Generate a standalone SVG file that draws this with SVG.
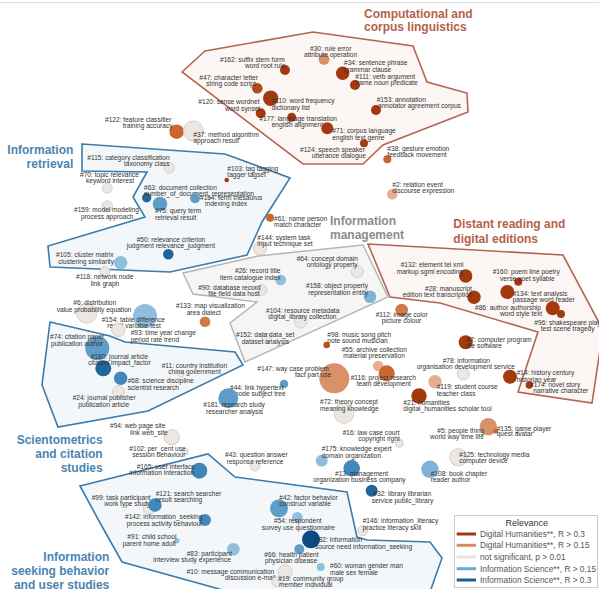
<svg xmlns="http://www.w3.org/2000/svg" width="599" height="589" viewBox="0 0 599 589">
<style>
.l{font-family:"Liberation Sans",Arial,sans-serif;font-size:6.6px;fill:#333}
.t{font-family:"Liberation Sans",Arial,sans-serif;font-size:12px;font-weight:bold}
.tr{fill:#b5614b}.tb{fill:#4a85b3}.tg{fill:#8c8c8c}
.pr{fill:#fcf6f4;stroke:#b5654f;stroke-width:1.6;stroke-linejoin:miter}
.pb{fill:#f3f7fa;stroke:#3d7bab;stroke-width:1.6}
.pg{fill:#f5f5f5;stroke:#b3b3b3;stroke-width:1.4}
.dr{fill:#a3390d}.mo{fill:#c9672f}.lo{fill:#d9916a}.llo{fill:#e4ae8f}
.ns{fill:#ece7e3;stroke:#cdc7c3;stroke-width:0.8}
.lb{fill:#8fbfdc}.mb{fill:#5d9dc7}.mb2{fill:#4189bd}.db{fill:#1f669b}.xb{fill:#0d4a85}
.lg{font-family:"Liberation Sans",Arial,sans-serif;font-size:8.3px;fill:#555}
</style>
<line x1="0" y1="2.5" x2="599" y2="2.5" stroke="#dddddd" stroke-width="1"/>
<g id="clusters">
<polygon class="pr" points="182,72 205,51 313,32 413,46 427,82 467,93 468,112 383,145 363,164 303,164"/>
<polygon class="pb" points="82,144 225,154 290,178 262,222 247,255 170,272 50,267 48,246 145,217 133,197 147,172 82,171"/>
<polygon class="pg" points="183,273 258,256 363,245 388,297 245,362 230,323 257,302 193,294"/>
<polygon class="pr" points="368,244 563,255 603,330 592,403 518,392 538,332 440,303 390,297"/>
<polygon class="pb" points="50,322 110,336 125,342 235,352 243,365 148,411 58,427 42,385"/>
<polygon class="pb" points="80,486 208,454 235,477 347,492 357,537 367,540 430,542 442,558 430,592 230,592 122,562 99,521"/>
</g>
<g id="nodes">
<g id="n30"><circle class="lo" cx="324" cy="59.3" r="5.5"/><text class="l"><tspan x="310" y="50.6">#30: rule error</tspan><tspan x="304" y="56.6">attribute operation</tspan></text></g>
<g id="n162"><circle class="dr" cx="285" cy="70" r="5"/><text class="l"><tspan x="220" y="61.6">#162: suffix stem form</tspan><tspan x="245" y="68">word root rule</tspan></text></g>
<g id="n47"><circle fill="#b34a1c" cx="257.3" cy="88.3" r="5.3"/><text class="l"><tspan x="199.3" y="80">#47: character letter</tspan><tspan x="206" y="86.3">string code script</tspan></text></g>
<g id="n120"><circle class="dr" cx="260.7" cy="113.3" r="5"/><text class="l"><tspan x="198.3" y="104">#120: sense wordnet</tspan><tspan x="225" y="111">word synset</tspan></text></g>
<g id="n110"><circle class="dr" cx="270.7" cy="98.3" r="7.7"/><text class="l"><tspan x="271.7" y="103.3">#110: word frequency</tspan><tspan x="271.7" y="110">dictionary list</tspan></text></g>
<g id="n177"><circle class="dr" cx="291.7" cy="117.3" r="4.5"/><text class="l"><tspan x="259.3" y="120.6">#177: language translation</tspan><tspan x="271.7" y="127.3">english alignment</tspan></text></g>
<g id="n71"><circle class="dr" cx="327.3" cy="128.3" r="6"/><text class="l"><tspan x="332.3" y="133.3">#71: corpus language</tspan><tspan x="332.3" y="140">english text genre</tspan></text></g>
<g id="n124"><circle class="dr" cx="364" cy="143.3" r="4"/><text class="l"><tspan x="300" y="152.3">#124: speech speaker</tspan><tspan x="311.7" y="158.3">utterance dialogue</tspan></text></g>
<g id="n34"><circle class="dr" cx="342.7" cy="73.3" r="6.7"/><text class="l"><tspan x="344" y="64.6">#34: sentence phrase</tspan><tspan x="344" y="71.6">grammar clause</tspan></text></g>
<g id="n111"><circle class="dr" cx="355" cy="85" r="5"/><text class="l"><tspan x="355.3" y="79">#111: verb argument</tspan><tspan x="355.3" y="85.3">frame noun predicate</tspan></text></g>
<g id="n153"><circle class="dr" cx="376" cy="110" r="5"/><text class="l"><tspan x="376.7" y="101.6">#153: annotation</tspan><tspan x="378" y="108.3">annotator agreement corpus</tspan></text></g>
<g id="n38"><circle class="mo" cx="387.3" cy="159.3" r="4"/><text class="l"><tspan x="387.3" y="150.6">#38: gesture emotion</tspan><tspan x="387.3" y="156.6">feedback movement</tspan></text></g>
<g id="n2"><circle class="llo" cx="392.3" cy="194.3" r="5.3"/><text class="l"><tspan x="392.3" y="186.6">#2: relation event</tspan><tspan x="392.3" y="193.3">discourse expression</tspan></text></g>
<g id="n122"><circle class="mo" cx="176.7" cy="131.7" r="7.3"/><text class="l"><tspan x="105" y="121.6">#122: feature classifier</tspan><tspan x="122.7" y="128.3">training accuracy</tspan></text></g>
<g id="n37"><circle class="ns" cx="193.3" cy="131" r="10"/><text class="l"><tspan x="193.3" y="136.6">#37: method algorithm</tspan><tspan x="193.3" y="143">approach result</tspan></text></g>
<g id="n115"><circle class="ns" cx="169.3" cy="167.7" r="5.3"/><text class="l"><tspan x="87.3" y="159.6">#115: category classification</tspan><tspan x="124" y="165.6">taxonomy class</tspan></text></g>
<g id="n70"><circle class="ns" cx="107.3" cy="188.3" r="5"/><text class="l"><tspan x="80" y="177.3">#70: topic relevance</tspan><tspan x="86" y="183.3">keyword interest</tspan></text></g>
<g id="n63"><circle class="db" cx="146.7" cy="197.7" r="4.7"/><text class="l"><tspan x="144" y="189.6">#63: document collection</tspan><tspan x="144" y="195.6">number_of_document_representation</tspan></text></g>
<g id="n75"><circle class="mb" cx="160" cy="204" r="7.3"/><text class="l"><tspan x="155" y="213.3">#75: query term</tspan><tspan x="155" y="220">retrieval result</tspan></text></g>
<g id="n164"><circle class="mb" cx="195" cy="198.3" r="5"/><text class="l"><tspan x="200" y="200">#164: term thesaurus</tspan><tspan x="205" y="205.6">indexing index</tspan></text></g>
<g id="n159"><circle class="ns" cx="107.3" cy="206" r="5.3"/><text class="l"><tspan x="74" y="212.3">#159: model modeling</tspan><tspan x="81" y="219">process approach</tspan></text></g>
<g id="n50"><circle class="db" cx="168.3" cy="254.3" r="5.3"/><text class="l"><tspan x="136.7" y="241.6">#50: relevance criterion</tspan><tspan x="126.7" y="248.3">judgment relevance_judgment</tspan></text></g>
<g id="n105"><circle class="lb" cx="120.7" cy="262.7" r="6.7"/><text class="l"><tspan x="56" y="256.6">#105: cluster matrix</tspan><tspan x="58.3" y="264">clustering similarity</tspan></text></g>
<g id="n103"><circle class="dr" cx="226.7" cy="180" r="2.3"/><text class="l"><tspan x="227.3" y="171.3">#103: tag tagging</tspan><tspan x="227.3" y="177.3">tagger tagset</tspan></text></g>
<g id="n61"><circle class="mo" cx="270" cy="217.7" r="4"/><text class="l"><tspan x="274" y="221.3">#61: name person</tspan><tspan x="274" y="227.3">match character</tspan></text></g>
<g id="n144"><circle class="ns" cx="260" cy="248.3" r="6.7"/><text class="l"><tspan x="257.3" y="239.6">#144: system task</tspan><tspan x="257.3" y="245.6">input technique set</tspan></text></g>
<g id="n64"><circle class="ns" cx="357.3" cy="271.7" r="6"/><text class="l"><tspan x="296.7" y="260.6">#64: concept domain</tspan><tspan x="306.7" y="267.3">ontology property</tspan></text></g>
<g id="n26"><circle class="lb" cx="280.7" cy="280" r="5.3"/><text class="l"><tspan x="235" y="273">#26: record title</tspan><tspan x="220" y="279.6">item catalogue index</tspan></text></g>
<g id="n90"><circle class="ns" cx="261.7" cy="290" r="5.3"/><text class="l"><tspan x="198.3" y="289.6">#90: database record</tspan><tspan x="208.3" y="295.6">file field data host</tspan></text></g>
<g id="n158"><circle fill="#7db3d6" cx="370" cy="296.7" r="6.3"/><text class="l"><tspan x="306" y="288.3">#158: object property</tspan><tspan x="308.3" y="295">representation entity</tspan></text></g>
<g id="n133"><circle fill="#d07a48" cx="205" cy="321.7" r="5.3"/><text class="l"><tspan x="176" y="308.3">#133: map visualization</tspan><tspan x="186.7" y="315">area dialect</tspan></text></g>
<g id="n104"><circle class="ns" cx="300.7" cy="321.7" r="6.3"/><text class="l"><tspan x="266" y="313">#104: resource metadata</tspan><tspan x="268.3" y="319">digital_library collection</tspan></text></g>
<g id="n152"><circle class="ns" cx="266.7" cy="338.3" r="5"/><text class="l"><tspan x="236" y="337.3">#152: data data_set</tspan><tspan x="241.7" y="344">dataset analysis</tspan></text></g>
<g id="n98"><circle fill="#b9501e" cx="326.7" cy="345" r="3.3"/><text class="l"><tspan x="327.3" y="336.6">#98: music song pitch</tspan><tspan x="327.3" y="343.3">note sound musician</tspan></text></g>
<g id="n55"><circle class="llo" cx="378.3" cy="366" r="5.3"/><text class="l"><tspan x="341.7" y="352.3">#55: archive collection</tspan><tspan x="343.3" y="358.3">material preservation</tspan></text></g>
<g id="n147"><circle class="lo" cx="334.3" cy="378.3" r="15"/><text class="l"><tspan x="257.3" y="370.6">#147: way case problem</tspan><tspan x="295" y="377.3">fact part use</tspan></text></g>
<g id="n116"><circle class="mo" cx="386.7" cy="373.3" r="8"/><text class="l"><tspan x="350.7" y="380">#116: project research</tspan><tspan x="356.7" y="386.3">team development</tspan></text></g>
<g id="n44"><circle class="mb" cx="284" cy="384" r="4.3"/><text class="l"><tspan x="230" y="390">#44: link hypertext</tspan><tspan x="235" y="396.3">node subject tree</tspan></text></g>
<g id="n181"><circle class="mb" cx="228.3" cy="398.3" r="10"/><text class="l"><tspan x="203.3" y="407.3">#181: research study</tspan><tspan x="206" y="414">researcher analysis</tspan></text></g>
<g id="n72"><circle class="ns" cx="344" cy="413.3" r="10"/><text class="l"><tspan x="320" y="404">#72: theory concept</tspan><tspan x="320" y="411.3">meaning knowledge</tspan></text></g>
<g id="n21"><circle class="dr" cx="419" cy="396" r="7.7"/><text class="l"><tspan x="403.3" y="404.6">#21: humanities</tspan><tspan x="403.3" y="411.3">digital_humanities scholar tool</tspan></text></g>
<g id="n16"><circle class="ns" cx="399.3" cy="443.3" r="4"/><text class="l"><tspan x="342.7" y="434.6">#16: law case court</tspan><tspan x="358.3" y="441.3">copyright right</tspan></text></g>
<g id="n175"><circle class="lb" cx="321.7" cy="460.7" r="6"/><text class="l"><tspan x="321.7" y="451.3">#175: knowledge expert</tspan><tspan x="321.7" y="458">domain organization</tspan></text></g>
<g id="n13"><circle class="mb2" cx="351.7" cy="468.3" r="8.3"/><text class="l"><tspan x="335" y="475.6">#13: management</tspan><tspan x="313.3" y="482.3">organization business company</tspan></text></g>
<g id="n32"><circle class="db" cx="371.7" cy="490.7" r="6"/><text class="l"><tspan x="373.3" y="496.3">#32: library librarian</tspan><tspan x="371.7" y="503">service public_library</tspan></text></g>
<g id="n146"><circle class="ns" cx="362.7" cy="530.7" r="5"/><text class="l"><tspan x="362.7" y="523">#146: information_literacy</tspan><tspan x="362.7" y="529.6">practice literacy skill</tspan></text></g>
<g id="n43"><circle class="ns" cx="255" cy="466" r="5"/><text class="l"><tspan x="225" y="457.3">#43: question answer</tspan><tspan x="226.7" y="464">response reference</tspan></text></g>
<g id="n42"><circle class="mb" cx="279" cy="508.3" r="9"/><text class="l"><tspan x="279.3" y="499.6">#42: factor behavior</tspan><tspan x="279.3" y="505.6">construct variable</tspan></text></g>
<g id="n54"><circle class="lb" cx="297.3" cy="517.3" r="5.3"/><text class="l"><tspan x="274" y="523.3">#54: respondent</tspan><tspan x="261.7" y="530">survey use questionnaire</tspan></text></g>
<g id="n82"><circle class="xb" cx="311" cy="539.3" r="9"/><text class="l"><tspan x="315" y="542.3">#82: information</tspan><tspan x="315" y="549">source need information_seeking</tspan></text></g>
<g id="n66"><circle class="mb" cx="299.3" cy="549.3" r="5"/><text class="l"><tspan x="264.3" y="557.3">#66: health patient</tspan><tspan x="265" y="563.3">physician disease</tspan></text></g>
<g id="n60"><circle class="lb" cx="320.7" cy="567" r="4"/><text class="l"><tspan x="330" y="568.3">#60: woman gender man</tspan><tspan x="330" y="574.6">male sex female</tspan></text></g>
<g id="n10"><circle class="ns" cx="285" cy="571.7" r="7"/><text class="l"><tspan x="186.7" y="574">#10: message communication</tspan><tspan x="225" y="580">discussion e-mail</tspan></text></g>
<g id="n19"><circle class="ns" cx="276.7" cy="581.7" r="5"/><text class="l"><tspan x="278.3" y="580.6">#19: community group</tspan><tspan x="279" y="587.3">member individual</tspan></text></g>
<g id="n83"><circle class="lb" cx="233.3" cy="549.3" r="6.3"/><text class="l"><tspan x="186.7" y="555.6">#83: participant</tspan><tspan x="153.3" y="562.3">interview study experience</tspan></text></g>
<g id="n165"><circle fill="#3f85b8" cx="199.3" cy="470.7" r="8"/><text class="l"><tspan x="136.7" y="469">#165: user interface</tspan><tspan x="129.3" y="475">information interaction</tspan></text></g>
<g id="n99"><circle class="ns" cx="149.3" cy="508.3" r="6"/><text class="l"><tspan x="91.7" y="499.6">#99: task participant</tspan><tspan x="104.3" y="505.6">work type study</tspan></text></g>
<g id="n121"><circle class="mb2" cx="155" cy="505" r="6.7"/><text class="l"><tspan x="155.7" y="495.6">#121: search searcher</tspan><tspan x="155.7" y="502.3">result searching</tspan></text></g>
<g id="n142"><circle class="mb2" cx="205" cy="520" r="6"/><text class="l"><tspan x="125" y="519">#142: information_seeking</tspan><tspan x="126.7" y="525.6">process activity behaviour</tspan></text></g>
<g id="n91"><circle class="lb" cx="176.7" cy="540.7" r="2.7"/><text class="l"><tspan x="127.3" y="539">#91: child school</tspan><tspan x="122.7" y="545.6">parent home adult</tspan></text></g>
<g id="n94"><circle class="ns" cx="171.7" cy="437.3" r="7.7"/><text class="l"><tspan x="110" y="428.3">#94: web page site</tspan><tspan x="130" y="435">link web_site</tspan></text></g>
<g id="n102"><circle class="ns" cx="185" cy="451.7" r="3.3"/><text class="l"><tspan x="129.3" y="450.6">#102: per_cent use</tspan><tspan x="132.3" y="456.6">session behaviour</tspan></text></g>
<g id="n118"><circle class="ns" cx="105" cy="271.7" r="5"/><text class="l"><tspan x="76" y="279">#118: network node</tspan><tspan x="90.7" y="285.6">link graph</tspan></text></g>
<g id="n6"><circle class="ns" cx="86.7" cy="313.3" r="10"/><text class="l"><tspan x="73.3" y="305">#6: distribution</tspan><tspan x="56.7" y="311.6">value probability equation</tspan></text></g>
<g id="n154"><circle class="lb" cx="145" cy="316" r="12"/><text class="l"><tspan x="101.7" y="322.3">#154: table difference</tspan><tspan x="107.3" y="328.3">result variable test</tspan></text></g>
<g id="n93"><circle class="ns" cx="118.3" cy="330" r="6.7"/><text class="l"><tspan x="130.7" y="335">#93: time year change</tspan><tspan x="130.7" y="341.6">period rate trend</tspan></text></g>
<g id="n74"><circle class="mb" cx="97.3" cy="348.3" r="12"/><text class="l"><tspan x="50" y="339">#74: citation paper</tspan><tspan x="51" y="345.6">publication author</tspan></text></g>
<g id="n180"><circle class="db" cx="103.3" cy="368.3" r="8"/><text class="l"><tspan x="90.7" y="359">#180: journal article</tspan><tspan x="88.3" y="365">citation impact_factor</tspan></text></g>
<g id="n11"><circle class="ns" cx="181" cy="374" r="3"/><text class="l"><tspan x="161.7" y="368">#11: country institution</tspan><tspan x="168.3" y="374">china government</tspan></text></g>
<g id="n68"><circle class="mb2" cx="120.7" cy="378.3" r="6.7"/><text class="l"><tspan x="127.7" y="383">#68: science discipline</tspan><tspan x="127.7" y="389.6">scientist research</tspan></text></g>
<g id="n24"><circle class="ns" cx="118.3" cy="391.7" r="6"/><text class="l"><tspan x="72.7" y="400">#24: journal publisher</tspan><tspan x="78.3" y="406.6">publication article</tspan></text></g>
<g id="n132"><circle class="dr" cx="465.7" cy="276" r="6.7"/><text class="l"><tspan x="400.7" y="267.3">#132: element tei xml</tspan><tspan x="396.7" y="274">markup sgml encoding</tspan></text></g>
<g id="n28"><circle class="dr" cx="474" cy="297.3" r="6.7"/><text class="l"><tspan x="425" y="290.6">#28: manuscript</tspan><tspan x="402.7" y="297.3">edition text transcription</tspan></text></g>
<g id="n160"><circle class="dr" cx="518.3" cy="281.7" r="4"/><text class="l"><tspan x="492.7" y="274">#160: poem line poetry</tspan><tspan x="500" y="280.6">verse poet syllable</tspan></text></g>
<g id="n134"><circle class="dr" cx="507.3" cy="292" r="7"/><text class="l"><tspan x="512.7" y="295.6">#134: text analysis</tspan><tspan x="512.7" y="302.3">passage word reader</tspan></text></g>
<g id="n86"><circle class="dr" cx="552.7" cy="308.3" r="7"/><text class="l"><tspan x="475" y="309.6">#86: author authorship</tspan><tspan x="500" y="316.3">word style text</tspan></text></g>
<g id="n96"><circle class="dr" cx="561" cy="314" r="4"/><text class="l"><tspan x="534.3" y="325">#96: shakespeare play</tspan><tspan x="540.7" y="331.3">test scene tragedy</tspan></text></g>
<g id="n7"><circle class="dr" cx="465.7" cy="342.3" r="7"/><text class="l"><tspan x="466.7" y="341.6">#7: computer program</tspan><tspan x="466.7" y="348.3">file software</tspan></text></g>
<g id="n78"><circle class="ns" cx="463.3" cy="374" r="6"/><text class="l"><tspan x="442.7" y="363">#78: information</tspan><tspan x="416.7" y="369">organisation development service</tspan></text></g>
<g id="n14"><circle class="dr" cx="510" cy="376.7" r="7"/><text class="l"><tspan x="516.7" y="375">#14: history century</tspan><tspan x="516.7" y="381.6">historian year</tspan></text></g>
<g id="n174"><circle class="dr" cx="529.3" cy="385" r="3.7"/><text class="l"><tspan x="530" y="387.3">#174: novel story</tspan><tspan x="533.3" y="393.3">narrative character</tspan></text></g>
<g id="n119"><circle class="llo" cx="435" cy="381.7" r="6.7"/><text class="l"><tspan x="436.7" y="389">#119: student course</tspan><tspan x="436.7" y="395.6">teacher class</tspan></text></g>
<g id="n112"><circle fill="#cf7848" cx="401.7" cy="310" r="6.3"/><text class="l"><tspan x="375.7" y="317.3">#112: image color</tspan><tspan x="381.7" y="323.3">picture colour</tspan></text></g>
<g id="n5"><circle class="lo" cx="488.3" cy="426.7" r="8.7"/><text class="l"><tspan x="437.3" y="433">#5: people thing</tspan><tspan x="430" y="439">world way time life</tspan></text></g>
<g id="n135"><circle class="mo" cx="495.7" cy="431" r="2.5"/><text class="l"><tspan x="496.7" y="430.6">#135: game player</tspan><tspan x="496.7" y="436.3">quest avatar</tspan></text></g>
<g id="n125"><circle class="ns" cx="458.3" cy="457.3" r="8.7"/><text class="l"><tspan x="459.3" y="456.6">#125: technology media</tspan><tspan x="459.3" y="463">computer device</tspan></text></g>
<g id="n108"><circle fill="#7fb3d5" cx="430" cy="469.3" r="8.7"/><text class="l"><tspan x="430.7" y="475.6">#108: book chapter</tspan><tspan x="430.7" y="482.3">reader author</tspan></text></g>
</g>
<g id="titles">
<text class="t tr"><tspan x="364" y="17.6">Computational and</tspan><tspan x="364" y="31">corpus linguistics</tspan></text>
<text class="t tb" text-anchor="end"><tspan x="73.3" y="153.6">Information</tspan><tspan x="73.3" y="167.6">retrieval</tspan></text>
<text class="t tg"><tspan x="330" y="225">Information</tspan><tspan x="330" y="239">management</tspan></text>
<text class="t tr"><tspan x="453.3" y="227.6">Distant reading and</tspan><tspan x="453.3" y="242.6">digital editions</tspan></text>
<text class="t tb" text-anchor="end"><tspan x="102.7" y="443.6">Scientometrics</tspan><tspan x="102.7" y="457.6">and citation</tspan><tspan x="102.7" y="472">studies</tspan></text>
<text class="t tb" text-anchor="end"><tspan x="109.3" y="561">Information</tspan><tspan x="109.3" y="575.3">seeking behavior</tspan><tspan x="109.3" y="589">and user studies</tspan></text>
</g>
<g id="legend">
<rect x="454.5" y="515.5" width="143" height="72" fill="#ffffff" stroke="#cccccc" stroke-width="1"/>
<text x="526.7" y="525.8" text-anchor="middle" style="font-family:'Liberation Sans',Arial,sans-serif;font-size:9px;fill:#333">Relevance</text>
<g stroke-width="3">
<line x1="456.7" y1="534" x2="476" y2="534" stroke="#a0380f"/>
<line x1="456.7" y1="545.3" x2="476" y2="545.3" stroke="#d98a62"/>
<line x1="456.7" y1="557" x2="476" y2="557" stroke="#e9e3e0"/>
<line x1="456.7" y1="568.7" x2="476" y2="568.7" stroke="#6aaad0"/>
<line x1="456.7" y1="580" x2="476" y2="580" stroke="#1a5f94"/>
</g>
<text class="lg" x="480" y="537">Digital Humanities**, R &gt; 0.3</text>
<text class="lg" x="480" y="548.3">Digital Humanities**, R &gt; 0.15</text>
<text class="lg" x="480" y="560">not significant, p &gt; 0.01</text>
<text class="lg" x="480" y="571.7">Information Science**, R &gt; 0.15</text>
<text class="lg" x="480" y="583">Information Science**, R &gt; 0.3</text>
</g>
</svg>
